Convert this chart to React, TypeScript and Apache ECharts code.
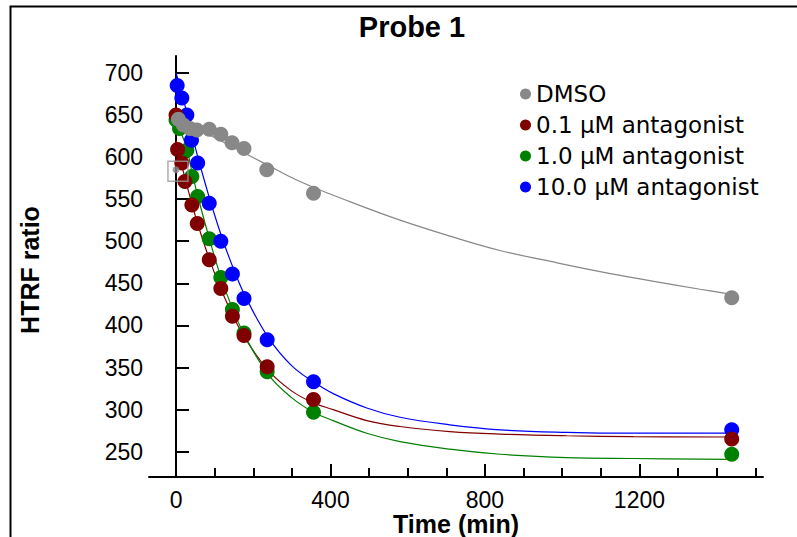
import React, { useEffect, useRef } from "react";
import * as echarts from "echarts";

// ---- data ----
const seriesNames = ["DMSO", "0.1 μM antagonist", "1.0 μM antagonist", "10.0 μM antagonist"];
const seriesColors = ["#888888", "#800000", "#008000", "#0000ff"];

const dmsoTime = [6, 19, 36, 54, 86, 116, 145, 176, 235, 356, 1439];
const dmsoValue = [645, 638, 634, 632, 633, 627, 617, 610, 585, 557, 433];

const lowTime = [0, 4, 15, 23, 41, 55, 86, 116, 146, 176, 236, 356, 1439];
const lowValue = [650, 609, 593, 571, 543, 521, 478, 444, 411, 388, 351, 312, 265];

const midTime = [0, 9, 28, 41, 56, 86, 116, 146, 176, 236, 356, 1439];
const midValue = [644, 634, 608, 577, 553, 503, 457, 419, 391, 345, 297, 247];

const highTime = [3, 15, 28, 40, 56, 86, 116, 146, 176, 236, 356, 1439];
const highValue = [685, 670, 650, 620, 593, 545, 500, 461, 432, 383, 333, 276];

// excluded DMSO point (small, boxed)
const outlierTime = [0];
const outlierValue = [585];

// fitted curves
const dmsoFitTime = [0, 44, 88, 176, 235, 321, 450, 580, 710, 839, 970, 1098, 1230, 1357, 1439];
const dmsoFitValue = [646, 636, 626, 605, 591, 571, 547, 525, 506, 489, 476, 464, 453, 443, 437];

const fitTime = [0, 15, 30, 45, 60, 90, 120, 150, 180, 240, 300, 356, 407, 494, 580, 709, 839, 1012, 1184, 1439];
const lowFitValue = [620, 590, 563, 538, 515, 474, 439, 409, 384, 346, 322, 308, 300, 287, 280, 274, 271, 269, 268, 267.5];
const highFitValue = [700, 676, 648, 620, 594, 546, 503, 466, 434, 385, 352, 333, 319, 302, 291, 282, 276, 273, 272, 272];
const midFitTime = [0, 10, 28, 41, 56, 90, 120, 150, 180, 240, 300, 356, 407, 494, 580, 709, 839, 1012, 1184, 1439];
const midFitValue = [648, 633, 610, 583, 554, 497, 452, 416, 386, 341, 314, 297, 287, 272, 262, 253, 247, 243, 242, 241];

const xTicks = [0, 100, 200, 300, 400, 500, 600, 700, 800, 900, 1000, 1100, 1200, 1300, 1400, 1500];
const xMajorTicks = [0, 400, 800, 1200];
const yTicks = [250, 300, 350, 400, 450, 500, 550, 600, 650, 700];

const titleText = "Probe 1";
const xTitle = "Time (min)";
const yTitle = "HTRF ratio";

const zip = (a: number[], b: number[]) => a.map((v, i) => [v, b[i]]);

export default function App() {
  const ref = useRef<HTMLDivElement>(null);
  useEffect(() => {
    if (!ref.current) return;
    const chart = echarts.init(ref.current, null, { renderer: "svg" });
    const font = "Liberation Sans, Arial, sans-serif";
    const fitLine = (name: string, t: number[], v: number[], color: string, z: number) => ({
      name: name + " fit",
      type: "line",
      data: zip(t, v),
      showSymbol: false,
      symbol: "none",
      smooth: 0.4,
      silent: true,
      z,
      lineStyle: { color, width: 1.2 },
      itemStyle: { color },
    });
    const dots = (name: string, t: number[], v: number[], color: string, z: number) => ({
      name,
      type: "scatter",
      data: zip(t, v),
      symbol: "circle",
      symbolSize: 15,
      z,
      itemStyle: { color, opacity: 1 },
    });
    const option: any = {
      animation: false,
      backgroundColor: "#ffffff",
      grid: { left: 149, right: 34, top: 56, bottom: 60 },
      legend: {
        data: seriesNames.map((n) => ({ name: n, icon: "circle" })),
        orient: "vertical",
        left: 515,
        top: 77,
        itemWidth: 11,
        itemHeight: 11,
        itemGap: 7,
        textStyle: {
          fontFamily: "DejaVu Sans, Verdana, sans-serif",
          fontSize: 23,
          color: "#000",
          lineHeight: 24,
        },
      },
      xAxis: [
        {
          type: "value",
          min: -70,
          max: 1520,
          axisLine: { show: true, lineStyle: { color: "#000", width: 2 } },
          axisTick: { show: true, inside: true, length: 9, customValues: xTicks, lineStyle: { color: "#000", width: 2 } },
          axisLabel: {
            customValues: xMajorTicks,
            formatter: (v: number) => String(v),
            fontFamily: font,
            fontSize: 23,
            color: "#000",
            margin: 11,
          },
          splitLine: { show: false },
        },
        {
          type: "value",
          min: -70,
          max: 1520,
          position: "bottom",
          axisLine: { show: false },
          axisTick: { show: true, inside: true, length: 13, customValues: xMajorTicks, lineStyle: { color: "#000", width: 2 } },
          axisLabel: { show: false },
          splitLine: { show: false },
        },
      ],
      yAxis: {
        type: "value",
        min: 220,
        max: 720,
        axisLine: { show: true, lineStyle: { color: "#000", width: 2 } },
        axisTick: { show: true, inside: true, length: 13, customValues: yTicks, lineStyle: { color: "#000", width: 2 } },
        axisLabel: {
          customValues: yTicks,
          formatter: (v: number) => String(v),
          fontFamily: font,
          fontSize: 23,
          color: "#000",
          margin: 6,
        },
        splitLine: { show: false },
      },
      graphic: [
        {
          type: "rect",
          shape: { x: 10.5, y: 6.5, width: 800, height: 540 },
          style: { fill: "none", stroke: "#000", lineWidth: 2 },
          silent: true,
        },
        {
          type: "text",
          x: 412,
          y: 27,
          style: { text: titleText, font: "bold 29px Liberation Sans, Arial, sans-serif", fill: "#000", textAlign: "center", textVerticalAlign: "middle" },
        },
        {
          type: "text",
          x: 456,
          y: 524,
          style: { text: xTitle, font: "bold 25px Liberation Sans, Arial, sans-serif", fill: "#000", textAlign: "center", textVerticalAlign: "middle" },
        },
        {
          type: "text",
          x: 30,
          y: 270,
          rotation: Math.PI / 2,
          style: { text: yTitle, font: "bold 25px Liberation Sans, Arial, sans-serif", fill: "#000", textAlign: "center", textVerticalAlign: "middle" },
        },
      ],
      series: [
        fitLine(seriesNames[0], dmsoFitTime, dmsoFitValue, seriesColors[0], 1),
        fitLine(seriesNames[1], fitTime, lowFitValue, seriesColors[1], 1),
        fitLine(seriesNames[2], midFitTime, midFitValue, seriesColors[2], 1),
        fitLine(seriesNames[3], fitTime, highFitValue, seriesColors[3], 1),
        dots(seriesNames[2], midTime, midValue, seriesColors[2], 2),
        dots(seriesNames[3], highTime, highValue, seriesColors[3], 3),
        dots(seriesNames[1], lowTime, lowValue, seriesColors[1], 4),
        dots(seriesNames[0], dmsoTime, dmsoValue, seriesColors[0], 5),
        {
          name: "excluded",
          type: "scatter",
          data: zip(outlierTime, outlierValue),
          symbolSize: 7,
          z: 6,
          itemStyle: { color: seriesColors[0] },
        },
        {
          name: "excluded box",
          type: "scatter",
          data: zip(outlierTime.map((t) => t + 5), outlierValue.map((v) => v - 2)),
          symbol: "rect",
          symbolSize: 20,
          z: 6,
          silent: true,
          itemStyle: { color: "rgba(0,0,0,0)", borderColor: "#999999", borderWidth: 1.5 },
        },
      ],
    };
    chart.setOption(option);
    return () => chart.dispose();
  }, []);
  return <div ref={ref} style={{ position: "fixed", left: 0, top: 0, width: 797, height: 537 }} />;
}
